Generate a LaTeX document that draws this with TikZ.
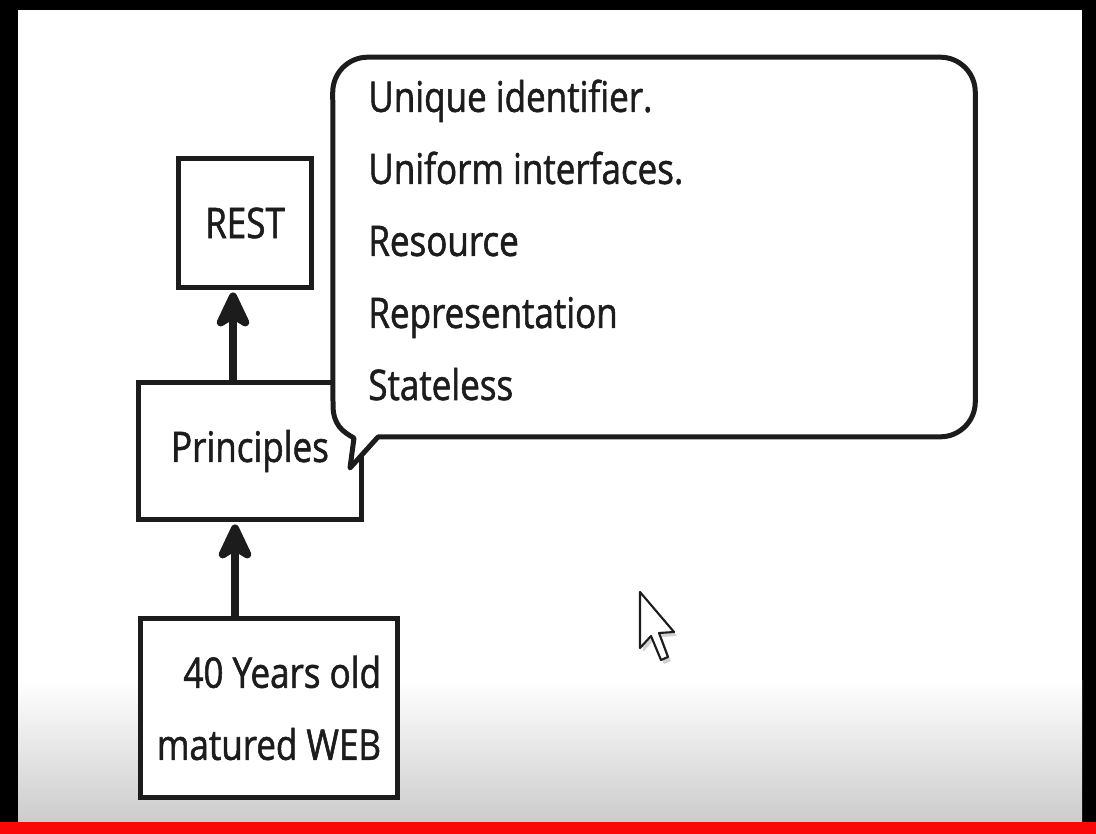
\documentclass[tikz,border=0pt]{standalone}
\usepackage{fontspec}
\setmainfont[FakeStretch=0.83, FakeBold=1.3]{Open Sans}
\usetikzlibrary{arrows.meta,positioning}
\definecolor{inkgray}{RGB}{28,28,28}
\definecolor{barred}{RGB}{250,8,8}

\tikzset{
  box/.style={draw=inkgray, line width=0.1cm, fill=white, inner sep=0pt, text=inkgray},
  uparrow/.style={draw=inkgray, line width=0.16cm,
    -{Stealth[length=0.9cm, width=0.84cm, inset=0.25cm, round]}, shorten >=0.04cm},
  bubbleline/.style={draw=inkgray, line width=0.1cm, fill=white, line join=round},
}

\begin{document}
\begin{tikzpicture}[x=0.02cm, y=-0.02cm, font=\fontsize{24}{41}\selectfont]
% screen frame
\fill[black] (0,0) rectangle (1096,834);
\fill[white] (18,10) rectangle (1082,822);
\shade[top color=white, bottom color=gray!40] (18,680) rectangle (1082,822);
\fill[barred] (0,822) rectangle (1096,834);
\useasboundingbox (0,0) rectangle (1096,834);

% boxes
\node[box, minimum width=2.68cm, minimum height=2.6cm] (rest) at (245,223) {REST};
\node[box, minimum width=4.48cm, minimum height=2.76cm] (principles) at (250,451) {Principles};
\node[box, minimum width=5.16cm, minimum height=3.6cm, align=right] (web) at (269,708) {40 Years old\\matured WEB};

\draw[uparrow] ([xshift=-0.34cm]principles.north) -- ([xshift=-0.34cm]principles.north |- rest.south);
\draw[uparrow] ([xshift=-0.68cm]web.north) -- ([xshift=-0.68cm]web.north |- principles.south);

% speech bubble
\node[minimum width=12.84cm, minimum height=7.58cm, inner sep=0pt] (bubble) at (654,247) {};
\draw[bubbleline] (378,437) [rounded corners=0.7cm] -- (bubble.south east) -- (bubble.north east)
  -- (bubble.north west) [rounded corners=0cm] -- (333,405)
  .. controls (333,425) and (343,432) .. (354,438) -- (350,468) -- cycle;
\node[anchor=base west, align=left, inner sep=0pt, text=inkgray] (items) at (368,400)
  {Unique identifier.\\Uniform interfaces.\\Resource\\Representation\\Stateless};

% mouse pointer
\fill[gray!35] (643,596) -- (643,652) -- (654,640) -- (664,664) -- (671,661) -- (662,637) -- (677,636) -- cycle;
\draw[fill=white, draw=inkgray, line width=1.2pt, line join=round]
  (640,592) -- (640,648) -- (651,636) -- (661,660) -- (668,657) -- (659,633) -- (674,632) -- cycle;
\end{tikzpicture}
\end{document}
